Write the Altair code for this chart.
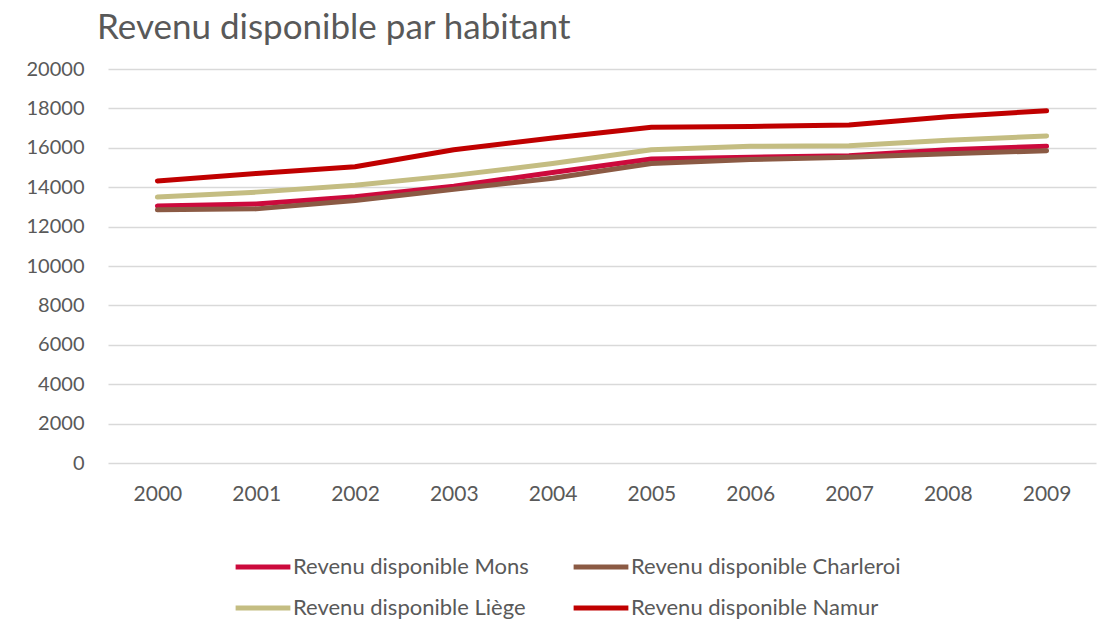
import altair as alt
import pandas as pd

years = ["2000", "2001", "2002", "2003", "2004", "2005", "2006", "2007", "2008", "2009"]
mons = [13050, 13150, 13520, 14050, 14750, 15430, 15520, 15600, 15900, 16080]
charleroi = [12850, 12900, 13320, 13900, 14450, 15200, 15400, 15520, 15700, 15850]
liege = [13500, 13750, 14100, 14600, 15200, 15900, 16080, 16100, 16380, 16600]
namur = [14320, 14700, 15040, 15900, 16500, 17040, 17080, 17160, 17580, 17880]

series_names = [
    "Revenu disponible Mons",
    "Revenu disponible Charleroi",
    "Revenu disponible Liège",
    "Revenu disponible Namur",
]
series_colors = ["#CC0A3C", "#8B5A44", "#C4BD82", "#C00000"]
y_ticks = list(range(0, 20001, 2000))

rows = []
for name, vals in zip(series_names, [mons, charleroi, liege, namur]):
    for yr, v in zip(years, vals):
        rows.append({"Année": yr, "Série": name, "Valeur": v})
df = pd.DataFrame(rows)

FONT = "Lato"
GRAY = "#595959"

chart = (
    alt.Chart(df)
    .mark_line(strokeWidth=5, strokeCap="round", strokeJoin="round")
    .encode(
        x=alt.X(
            "Année:O",
            sort=years,
            scale=alt.Scale(padding=0.5),
            axis=alt.Axis(
                title=None,
                labelAngle=0,
                ticks=False,
                domain=False,
                labelFontSize=21,
                labelColor=GRAY,
                labelFont=FONT,
                labelPadding=20,
            ),
        ),
        y=alt.Y(
            "Valeur:Q",
            scale=alt.Scale(domain=[0, 20000], nice=False),
            axis=alt.Axis(
                title=None,
                values=y_ticks,
                format="d",
                ticks=False,
                domain=False,
                labelFontSize=20,
                labelColor=GRAY,
                labelFont=FONT,
                labelPadding=24,
                gridColor="#D9D9D9",
                gridWidth=1.3,
            ),
        ),
        color=alt.Color(
            "Série:N",
            sort=series_names,
            scale=alt.Scale(domain=series_names, range=series_colors),
            legend=alt.Legend(
                title=None,
                orient="none",
                legendX=125,
                legendY=468,
                direction="horizontal",
                columns=2,
                symbolType="stroke",
                symbolStrokeWidth=5,
                symbolSize=3000,
                labelFontSize=22,
                labelColor=GRAY,
                labelFont=FONT,
                labelOffset=0,
                labelLimit=0,
                columnPadding=34,
                rowPadding=-10,
            ),
        ),
        order=alt.Order("Série:N"),
    )
    .properties(
        width=988,
        height=394,
        title=alt.TitleParams(
            "Revenu disponible par habitant",
            anchor="start",
            frame="group",
            fontSize=35,
            font=FONT,
            fontWeight="normal",
            color=GRAY,
            dx=-11,
            offset=13,
        ),
        autosize="none",
        padding={"left": 100, "top": 61, "right": 5, "bottom": 158},
    )
    .configure_view(stroke=None)
)

chart.save("out.html", embed_options={"renderer": "svg", "actions": False})
